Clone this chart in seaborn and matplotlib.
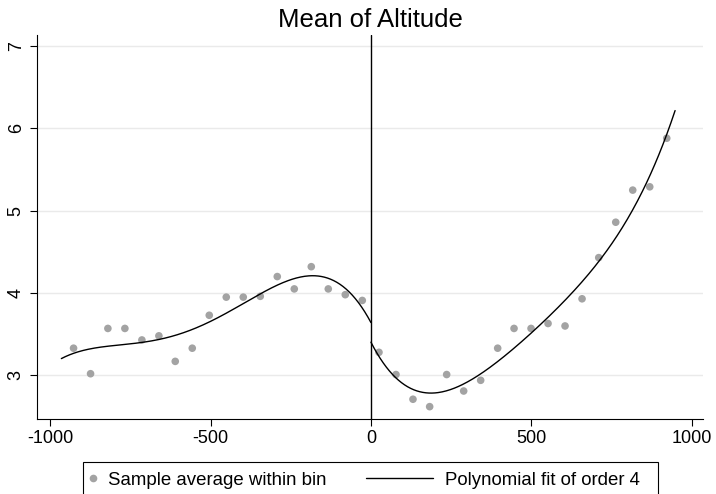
import numpy as np
import pandas as pd
import matplotlib
matplotlib.use("Agg")
import matplotlib.pyplot as plt
import seaborn as sns
from matplotlib.lines import Line2D
from matplotlib.patches import Rectangle

# ---- data ----
left_x = [-927, -874, -820, -767, -714, -661, -610, -557, -504,
          -451, -398, -345, -292, -239, -186, -133, -80, -27]
left_y = [3.33, 3.02, 3.57, 3.57, 3.43, 3.48, 3.17, 3.33, 3.73,
          3.95, 3.95, 3.96, 4.20, 4.05, 4.32, 4.05, 3.98, 3.91]
right_x = [25, 78, 131, 183, 236, 289, 342, 395, 446,
           499, 552, 605, 658, 710, 763, 816, 869, 922]
right_y = [3.28, 3.01, 2.71, 2.62, 3.01, 2.81, 2.94, 3.33, 3.57,
           3.57, 3.63, 3.60, 3.93, 4.43, 4.86, 5.25, 5.29, 5.88]
left_range = [-965, 0]
right_range = [0, 948]
fit_order = 4

x_ticks = [-1000, -500, 0, 500, 1000]
y_ticks = [3, 4, 5, 6, 7]

point_color = "#a3a3a3"

# ---- polynomial fits on each side of the cutoff ----
def poly_fit(xs, ys, rng):
    coef = np.polyfit(xs, ys, fit_order)
    grid = np.linspace(rng[0], rng[1], 300)
    return pd.DataFrame({"x": grid, "y": np.polyval(coef, grid)})

bins = pd.DataFrame({"x": left_x + right_x, "y": left_y + right_y})
fit_left = poly_fit(left_x, left_y, left_range)
fit_right = poly_fit(right_x, right_y, right_range)

# ---- figure ----
sns.set_style("white")
plt.rcParams["font.family"] = ["Liberation Sans", "DejaVu Sans"]
plt.rcParams["axes.unicode_minus"] = False
plt.rcParams["text.color"] = "black"
plt.rcParams["xtick.color"] = "black"
plt.rcParams["ytick.color"] = "black"

fig = plt.figure(figsize=(7.16, 4.94), dpi=100)
ax = fig.add_axes([37.3 / 716, 1 - 419 / 494, (703 - 37.3) / 716, (419 - 35) / 494])

ax.grid(axis="y", color="#eaeaea", lw=1.0, zorder=0)
ax.set_axisbelow(True)

sns.scatterplot(data=bins, x="x", y="y", ax=ax, color=point_color, s=30,
                edgecolor="none", zorder=3, legend=False)
sns.lineplot(data=fit_left, x="x", y="y", ax=ax, color="black", lw=1.0, zorder=4)
sns.lineplot(data=fit_right, x="x", y="y", ax=ax, color="black", lw=1.0, zorder=4)
ax.axvline(0, color="black", lw=1.0, zorder=4)

ax.set_xlim(-1040, 1035)
ax.set_ylim(2.47, 7.134)
ax.set_xticks(x_ticks)
ax.set_yticks(y_ticks)
ax.set_xlabel("")
ax.set_ylabel("")

for side in ["top", "right"]:
    ax.spines[side].set_visible(False)
for side in ["left", "bottom"]:
    ax.spines[side].set_color("black")
    ax.spines[side].set_linewidth(0.8)

ax.tick_params(axis="both", direction="out", length=5, width=0.8,
               color="black", labelcolor="black", labelsize=13, pad=3,
               bottom=True, left=True)
ax.tick_params(axis="y", labelrotation=90, pad=4)
plt.setp(ax.get_yticklabels(), va="center")

ax.set_title("Mean of Altitude", fontsize=18.5, pad=6, color="black")

# ---- legend (Stata style box at the bottom) ----
pt_handle = Line2D([], [], marker="o", ls="none", color=point_color,
                   markersize=5.5, markeredgewidth=0)
ln_handle = Line2D([], [], color="black", lw=1.0)

yc = 1 - 480 / 494
fig.legend(handles=[pt_handle], labels=["Sample average within bin"],
           loc="center left", bbox_to_anchor=(86 / 716, yc), frameon=False,
           handlelength=0.75, handletextpad=0.42, borderpad=0, borderaxespad=0,
           fontsize=13.4, labelcolor="black")
fig.legend(handles=[ln_handle], labels=["Polynomial fit of order 4"],
           loc="center left", bbox_to_anchor=(366 / 716, yc), frameon=False,
           handlelength=3.6, handletextpad=0.65, borderpad=0, borderaxespad=0,
           fontsize=13.4, labelcolor="black")
fig.patches.append(Rectangle((83.3 / 716, -0.05), (658 - 83.3) / 716,
                             1 - 461.7 / 494 + 0.05, transform=fig.transFigure,
                             facecolor="white", edgecolor="black", lw=0.8,
                             zorder=-1))

fig.savefig("out.png", dpi=100)
